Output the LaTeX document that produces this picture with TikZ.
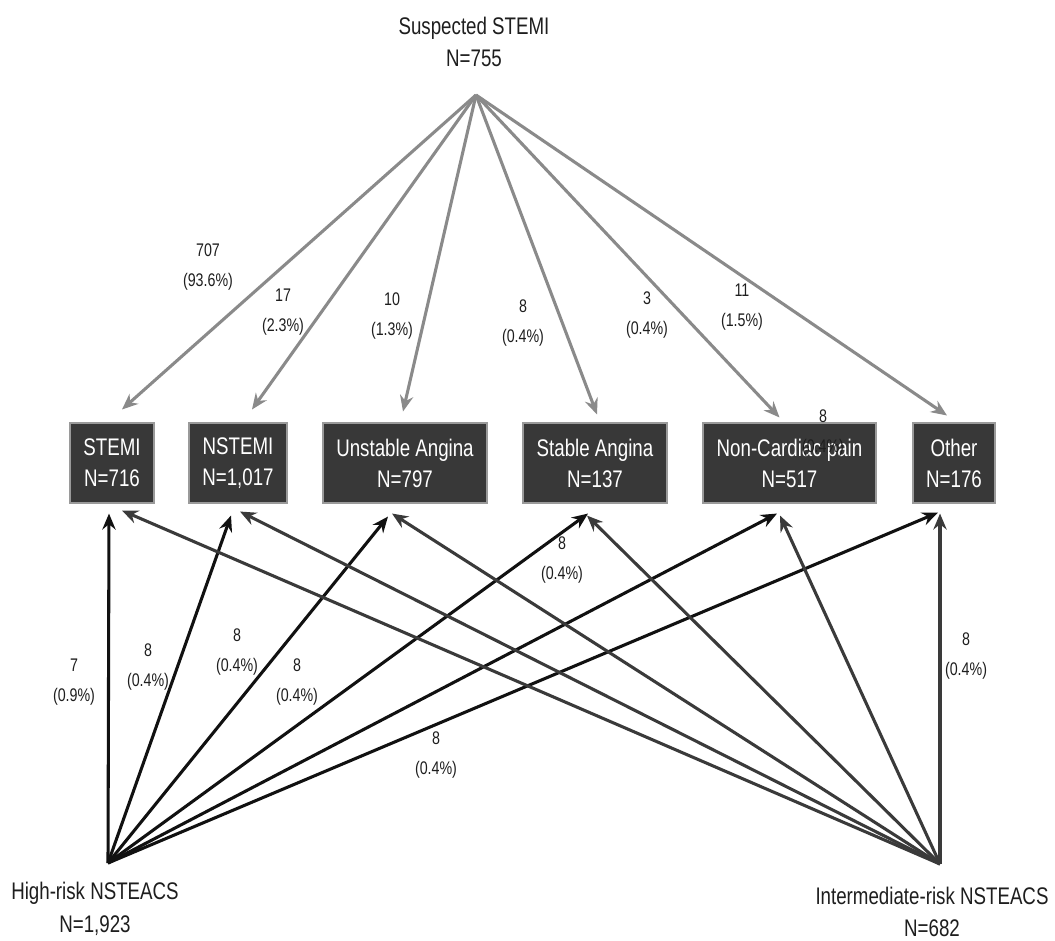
\documentclass[tikz,border=0pt]{standalone}
\usepackage{fontspec}
\setmainfont[FakeStretch=0.78]{Liberation Sans}
\usetikzlibrary{arrows.meta,calc}
\definecolor{boxfill}{HTML}{383838}
\definecolor{boxline}{HTML}{9A9A9A}
\definecolor{grayline}{HTML}{8A8A8A}
\definecolor{hrline}{HTML}{111111}
\definecolor{irline}{HTML}{3A3A3A}
\definecolor{txt}{HTML}{1E1E1E}
\begin{document}
\begin{tikzpicture}[x=0.75pt,y=-0.75pt,
  bigtext/.style={font=\fontsize{18}{24.5}\selectfont, align=center, text=txt, inner sep=0pt},
  cat/.style={draw=boxline, line width=0.8pt, fill=boxfill, text=white,
    font=\fontsize{18}{23.25}\selectfont, align=center, minimum height=60pt, inner sep=0pt},
  num/.style={font=\fontsize{13.7}{22.5}\selectfont, align=center, text=txt, inner sep=0pt},
  tip/.style={-{Stealth[length=12pt,width=10pt,inset=4pt]}},
  grayarr/.style={tip, draw=grayline, line width=2.3pt},
  hrarr/.style={tip, draw=hrline, line width=2.3pt},
  irarr/.style={tip, draw=irline, line width=2.3pt}
]
\fill[white] (0,0) rectangle (1055,940);
\useasboundingbox (0,0) rectangle (1055,940);

% source labels
\node[bigtext] (sus) at (474,42) {Suspected STEMI\\N=755};
\node[bigtext] (hr) at (95,909) {High-risk NSTEACS\\N=1,923};
\node[bigtext] (ir) at (932,912) {Intermediate-risk NSTEACS\\N=682};
\coordinate (sapex) at (476,95);
\coordinate (hapex) at (108,863);
\coordinate (iapex) at (940,864);

% category boxes
\node[cat, minimum width=63pt] (stemi) at (112,463) {STEMI\\N=716};
\node[cat, minimum width=73.5pt] (nstemi) at (238,463) {NSTEMI\\N=1,017};
\node[cat, minimum width=123pt] (ua) at (405,463) {Unstable Angina\\N=797};
\node[cat, minimum width=108pt] (sa) at (595,463) {Stable Angina\\N=137};
\node[cat, minimum width=129.75pt] (ncp) at (789.5,463) {Non-Cardiac pain\\N=517};
\node[cat, minimum width=61.5pt] (oth) at (954,463) {Other\\N=176};

% suspected STEMI arrows
\draw[grayarr] (sapex) -- ($(stemi.north)+(10,-13)$);
\draw[grayarr] (sapex) -- ($(nstemi.north)+(14,-13)$);
\draw[grayarr] (sapex) -- ($(ua.north)+(-2,-11)$);
\draw[grayarr] (sapex) -- ($(sa.north)+(2,-8)$);
\draw[grayarr] (sapex) -- ($(ncp.north)+(-10,-5)$);
\draw[grayarr] (sapex) -- ($(oth.north)+(-7,-7)$);

% high-risk arrows
\draw[hrarr] (hapex) -- ($(stemi.south)+(-3,10)$);
\draw[hrarr] (hapex) -- ($(nstemi.south)+(-7,12)$);
\draw[hrarr] (hapex) -- ($(ua.south)+(-17,13)$);
\draw[hrarr] (hapex) -- ($(sa.south)+(-7,10)$);
\draw[hrarr] (hapex) -- ($(ncp.south)+(-12.5,10)$);
\draw[hrarr] (hapex) -- ($(oth.south)+(-16,9)$);

% intermediate-risk arrows
\draw[irarr] (iapex) -- ($(stemi.south)+(10,7)$);
\draw[irarr] (iapex) -- ($(nstemi.south)+(2,8)$);
\draw[irarr] (iapex) -- ($(ua.south)+(-13,10)$);
\draw[irarr] (iapex) -- ($(sa.south)+(-8,12)$);
\draw[irarr] (iapex) -- ($(ncp.south)+(-9.5,12)$);
\draw[irarr] (iapex) -- ($(oth.south)+(-14,10)$);

% counts, upper
\node[num] (l1) at (208,267) {707\\(93.6\%)};
\node[num] (l2) at (283,312) {17\\(2.3\%)};
\node[num] (l3) at (392,316) {10\\(1.3\%)};
\node[num] (l4) at (523,323) {8\\(0.4\%)};
\node[num] (l5) at (647,315) {3\\(0.4\%)};
\node[num] (l6) at (742,307) {11\\(1.5\%)};
\node[num] (l7) at (823,433) {8\\(0.4\%)};

% counts, lower
\node[num] (l8) at (74,682) {7\\(0.9\%)};
\node[num] (l9) at (148,667) {8\\(0.4\%)};
\node[num] (l10) at (237,652) {8\\(0.4\%)};
\node[num] (l11) at (297,682) {8\\(0.4\%)};
\node[num] (l12) at (562,560) {8\\(0.4\%)};
\node[num] (l13) at (436,755) {8\\(0.4\%)};
\node[num] (l14) at (966,656) {8\\(0.4\%)};
\end{tikzpicture}
\end{document}
